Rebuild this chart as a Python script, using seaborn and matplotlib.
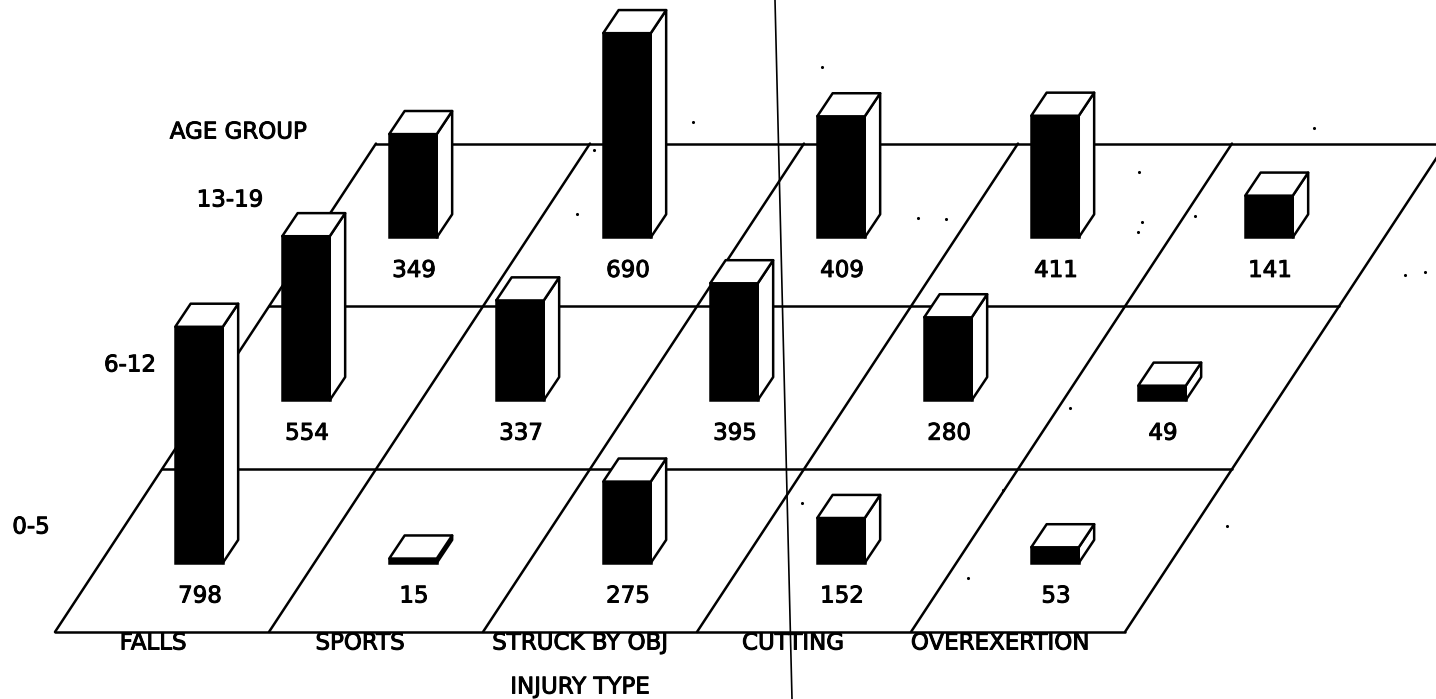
import pandas as pd
import matplotlib
matplotlib.use('Agg')
import matplotlib.pyplot as plt
import matplotlib.patheffects as pe
import seaborn as sns

injury_types = ['FALLS', 'SPORTS', 'STRUCK BY OBJ', 'CUTTING', 'OVEREXERTION']
age_groups = ['0-5', '6-12', '13-19']
counts_0_5 = [798, 15, 275, 152, 53]
counts_6_12 = [554, 337, 395, 280, 49]
counts_13_19 = [349, 690, 409, 411, 141]

# specks and the fold line from the scan, in image pixels
speck_x = [822, 594, 693, 577, 918, 946, 1139, 1142, 1138, 1195, 1314, 1405, 1425, 1070, 1003, 802, 1227, 968]
speck_y = [67, 150, 122, 214, 218, 219, 172, 222, 232, 216, 128, 275, 272, 408, 490, 503, 526, 578]
fold_x = [775, 792]
fold_y = [0, 699]

W, H = 1436, 699
PX_COL = 214.0    # pixels per column
PX_VAL = 0.296    # pixels per count
X0, Y0 = 199.0, 563.0   # pixel spot of first bar base centre
ROW_X = 0.5       # oblique shift per row, in columns
ROW_V = 550.0     # oblique shift per row, in counts
BAR_W = 0.222
DEPTH_X = 0.072
DEPTH_V = 78.0
FLOOR_X = -0.673
FLOOR_V = -233.0
LW = 1.8
FONT = 16.5
THICK = [pe.withStroke(linewidth=0.7, foreground='black')]


def px_to_data(px, py):
    return (px - X0) / PX_COL, (Y0 - py) / PX_VAL


def label(px, py, s):
    lx, ly = px_to_data(px, py)
    ax.text(lx, ly, s, ha='center', va='center', fontsize=FONT, color='black', zorder=5,
            path_effects=THICK)


rows = []
for r, values in enumerate([counts_0_5, counts_6_12, counts_13_19]):
    for c, value in enumerate(values):
        rows.append({'Injury': injury_types[c], 'Age': age_groups[r], 'Count': value,
                     'Col': c, 'Row': r, 'Pos': c + ROW_X * r, 'Base': r * ROW_V})
df = pd.DataFrame(rows)

sns.set_style('white')
plt.rcParams['font.family'] = ['DejaVu Sans']
fig = plt.figure(figsize=(W / 100, H / 100), dpi=100)
ax = fig.add_axes([0, 0, 1, 1])

# floor grid
for r in range(4):
    v = FLOOR_V + r * ROW_V
    x = FLOOR_X + r * ROW_X
    ax.plot([x, x + 5], [v, v], color='black', lw=LW, zorder=1)
for c in range(6):
    x = FLOOR_X + c
    ax.plot([x, x + 3 * ROW_X], [FLOOR_V, FLOOR_V + 3 * ROW_V], color='black', lw=LW, zorder=1)

# black front faces, one call per age group since each row sits on its own base
for r in [2, 1, 0]:
    part = df[df['Row'] == r]
    sns.barplot(data=part, x='Pos', y='Count', native_scale=True, width=BAR_W, color='black',
                saturation=1, errorbar=None, bottom=r * ROW_V, edgecolor='black', linewidth=LW,
                zorder=3, ax=ax)

# white side and top faces
for _, b in df.iterrows():
    left = b['Pos'] - BAR_W / 2
    right = b['Pos'] + BAR_W / 2
    low = b['Base']
    top = b['Base'] + b['Count']
    ax.fill([right, right + DEPTH_X, right + DEPTH_X, right],
            [low, low + DEPTH_V, top + DEPTH_V, top],
            facecolor='white', edgecolor='black', lw=LW, joinstyle='round', zorder=3)
    ax.fill([left, right, right + DEPTH_X, left + DEPTH_X],
            [top, top, top + DEPTH_V, top + DEPTH_V],
            facecolor='white', edgecolor='black', lw=LW, joinstyle='round', zorder=3)
    px = X0 + PX_COL * b['Pos']
    py = Y0 - PX_VAL * b['Base'] + 33
    label(px + 1, py, str(b['Count']))

# labels
for name, px in zip(injury_types, [153, 360, 580, 793, 1000]):
    label(px, 643, name)
for name, (px, py) in zip(age_groups, [(31, 527), (130, 365), (230, 200)]):
    label(px, py, name)
label(238, 132, 'AGE GROUP')
label(580, 687, 'INJURY TYPE')

# scan leftovers
fx, fy = zip(*[px_to_data(a, b) for a, b in zip(fold_x, fold_y)])
ax.plot(fx, fy, color='black', lw=1.2, zorder=6)
sx, sy = zip(*[px_to_data(a, b) for a, b in zip(speck_x, speck_y)])
ax.scatter(sx, sy, s=5, color='black', linewidths=0, zorder=6)

ax.set_xlim(px_to_data(0, 0)[0], px_to_data(W, 0)[0])
ax.set_ylim(px_to_data(0, H)[1], px_to_data(0, 0)[1])
ax.set_axis_off()

fig.savefig('out.png', dpi=100)
plt.close(fig)
